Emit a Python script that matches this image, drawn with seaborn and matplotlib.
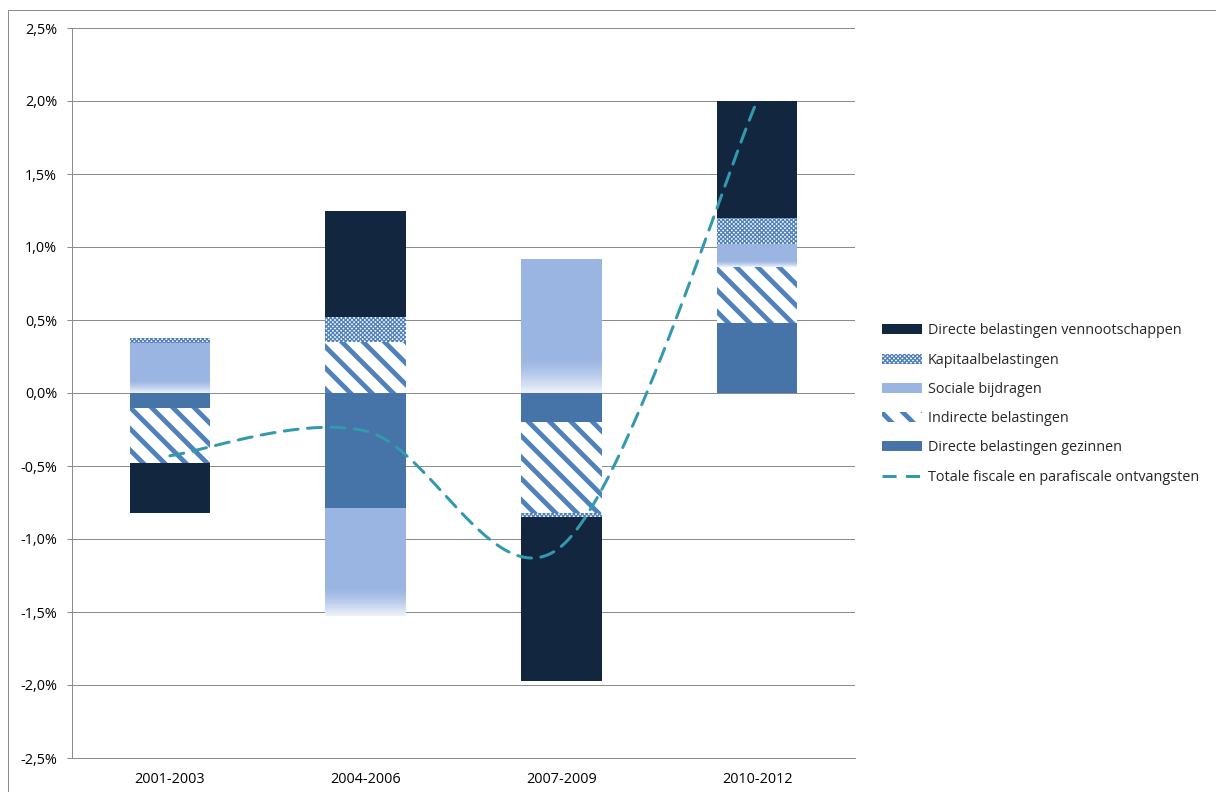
import numpy as np
import pandas as pd
import matplotlib
matplotlib.use("Agg")
import matplotlib.pyplot as plt
from matplotlib.patches import Patch, Rectangle
from matplotlib.lines import Line2D
import seaborn as sns

# Periods and contributions (percentage points) per tax category
periods = ["2001-2003", "2004-2006", "2007-2009", "2010-2012"]
gezinnen = [-0.10, -0.79, -0.20, 0.48]        # Directe belastingen gezinnen
indirecte = [-0.38, 0.35, -0.62, 0.38]        # Indirecte belastingen
sociale = [0.34, -0.74, 0.92, 0.16]           # Sociale bijdragen
kapitaal = [0.04, 0.17, -0.03, 0.18]          # Kapitaalbelastingen
vennootschappen = [-0.34, 0.73, -1.12, 0.80]  # Directe belastingen vennootschappen
totaal = [-0.43, -0.26, -1.05, 2.00]          # Totale fiscale en parafiscale ontvangsten

yticks = [-2.5, -2.0, -1.5, -1.0, -0.5, 0.0, 0.5, 1.0, 1.5, 2.0, 2.5]

# Rendering at 64 dpi keeps the hatch tiles small; PX converts pixels to points
DPI = 64
PX = 72 / DPI
FS = 14.4 * PX

sns.set_theme(style="white")
plt.rcParams["font.family"] = ["Open Sans", "DejaVu Sans"]

C_DARK = "#12263f"
C_STEEL = "#4673a8"
C_LIGHT = "#9bb5e2"
C_HATCH = "#4f81bd"
C_LINE = "#3399ad"
C_GRID = "#8c8c8c"

HATCH_STRIPE = "\\"
HATCH_CHECK = "xxxxx"
HLW_STRIPE = 4.8 * PX
HLW_CHECK = 1.3 * PX

fig = plt.figure(figsize=(1216 / DPI, 792 / DPI), dpi=DPI)
ax = fig.add_axes([72 / 1216, 1 - 758 / 792, (855 - 72) / 1216, (758 - 28) / 792])

# outer chart frame
fig.patches.append(Rectangle((8 / 1216, -0.1), 1.2, 1 - 10 / 792 + 0.1,
                             transform=fig.transFigure, fill=False,
                             edgecolor="#8c8c8c", linewidth=1.0 * PX, zorder=0))

layers = [
    ("Directe belastingen gezinnen", gezinnen, dict(color=C_STEEL), None),
    ("Indirecte belastingen", indirecte, dict(color="white", edgecolor=C_HATCH, hatch=HATCH_STRIPE), HLW_STRIPE),
    ("Sociale bijdragen", sociale, dict(color=C_LIGHT), None),
    ("Kapitaalbelastingen", kapitaal, dict(color="white", edgecolor=C_HATCH, hatch=HATCH_CHECK), HLW_CHECK),
    ("Directe belastingen vennootschappen", vennootschappen, dict(color=C_DARK), None),
]

pos_base = np.zeros(len(periods))
neg_base = np.zeros(len(periods))
bar_width = 0.41
sociale_patches = []

for name, vals, style, hlw in layers:
    vals = np.asarray(vals, dtype=float)
    bottoms = np.where(vals >= 0, pos_base, neg_base)
    n_before = len(ax.patches)
    with plt.rc_context({"hatch.linewidth": hlw if hlw else 1.0}):
        sns.barplot(x=periods, y=vals, bottom=bottoms, order=periods,
                    width=bar_width, linewidth=0, saturation=1, ax=ax,
                    zorder=2, **style)
    new_patches = ax.patches[n_before:]
    for p in new_patches:
        if hlw and hasattr(p, "set_hatch_linewidth"):
            p.set_hatch_linewidth(hlw)
        if "edgecolor" in style:
            p.set_facecolor("white")
            p.set_edgecolor(style["edgecolor"])
            p.set_linewidth(0)
    if name == "Sociale bijdragen":
        sociale_patches = list(new_patches)
    pos_base = pos_base + np.where(vals >= 0, vals, 0)
    neg_base = neg_base + np.where(vals < 0, vals, 0)

# soft fade at the lower part of the social contribution bars
grad = np.zeros((64, 2, 4))
grad[..., :3] = 1.0
fade = np.clip((np.linspace(0, 1, 64) - 0.74) / 0.26, 0, 1) ** 1.4 * 0.82
grad[..., 3] = fade[:, None]
for p in sociale_patches:
    x0, w = p.get_x(), p.get_width()
    y0, h = p.get_y(), p.get_height()
    lo, hi = min(y0, y0 + h), max(y0, y0 + h)
    ax.imshow(grad, extent=[x0, x0 + w, lo, hi], origin="upper",
              aspect="auto", zorder=2.5, interpolation="bilinear")

# smoothed total line (cubic Bezier through the period values)
px = np.arange(len(periods), dtype=float)
py = np.asarray(totaal, dtype=float)
pts = np.column_stack([px, py])
curve = []
for i in range(len(pts) - 1):
    p0 = pts[max(i - 1, 0)]
    p1 = pts[i]
    p2 = pts[i + 1]
    p3 = pts[min(i + 2, len(pts) - 1)]
    c1 = p1 + (p2 - p0) / 6
    c2 = p2 - (p3 - p1) / 6
    t = np.linspace(0, 1, 60)[:, None]
    seg = ((1 - t) ** 3) * p1 + 3 * ((1 - t) ** 2) * t * c1 + 3 * (1 - t) * t ** 2 * c2 + t ** 3 * p2
    curve.append(seg if i == 0 else seg[1:])
curve = np.vstack(curve)
line_df = pd.DataFrame({"x": curve[:, 0], "y": curve[:, 1]})
LW = 3.0 * PX
DASHES = [4.7, 3.1]
sns.lineplot(data=line_df, x="x", y="y", sort=False, ax=ax, color=C_LINE,
             linewidth=LW, zorder=4)
ax.lines[-1].set_dashes(DASHES)
ax.lines[-1].set_dash_capstyle("round")

ax.set_xlim(-0.5, 3.5)
ax.set_ylim(-2.5, 2.5)
ax.set_xticks(range(len(periods)))
ax.set_xticklabels(periods)
ax.set_yticks(yticks)
ax.set_yticklabels([f"{v:.1f}%".replace(".", ",") for v in yticks])
ax.set_xlabel("")
ax.set_ylabel("")
ax.yaxis.grid(True, color=C_GRID, linewidth=1.0 * PX)
ax.set_axisbelow(True)
for s in ["top", "right"]:
    ax.spines[s].set_visible(False)
for s in ["left", "bottom"]:
    ax.spines[s].set_visible(True)
    ax.spines[s].set_color(C_GRID)
    ax.spines[s].set_linewidth(1.0 * PX)
ax.tick_params(axis="y", length=5 * PX, width=1 * PX, color=C_GRID, labelsize=FS,
               labelcolor="black", pad=10 * PX, left=True)
ax.tick_params(axis="x", length=0, labelsize=FS, labelcolor="black", pad=14 * PX)

# legend
handles = [
    Patch(facecolor=C_DARK, linewidth=0, label="Directe belastingen vennootschappen"),
    Patch(facecolor="white", edgecolor=C_HATCH, hatch=HATCH_CHECK, linewidth=0, label="Kapitaalbelastingen"),
    Patch(facecolor=C_LIGHT, linewidth=0, label="Sociale bijdragen"),
    Patch(facecolor="white", edgecolor=C_HATCH, hatch=HATCH_STRIPE, linewidth=0, label="Indirecte belastingen"),
    Patch(facecolor=C_STEEL, linewidth=0, label="Directe belastingen gezinnen"),
    Line2D([0], [0], color=C_LINE, linewidth=LW, dashes=DASHES, label="Totale fiscale en parafiscale ontvangsten"),
]
handle_hlw = [None, HLW_CHECK, None, HLW_STRIPE, None]
leg = fig.legend(handles=handles, loc="center left", bbox_to_anchor=(869 / 1216, 1 - 404 / 792),
                 frameon=False, fontsize=FS, handlelength=2.77, handleheight=0.7,
                 labelspacing=0.99, handletextpad=0.42)
for lp, hlw in zip(leg.get_patches(), handle_hlw):
    if hlw and hasattr(lp, "set_hatch_linewidth"):
        lp.set_hatch_linewidth(hlw)

fig.savefig("out.png", dpi=DPI, facecolor="white")
